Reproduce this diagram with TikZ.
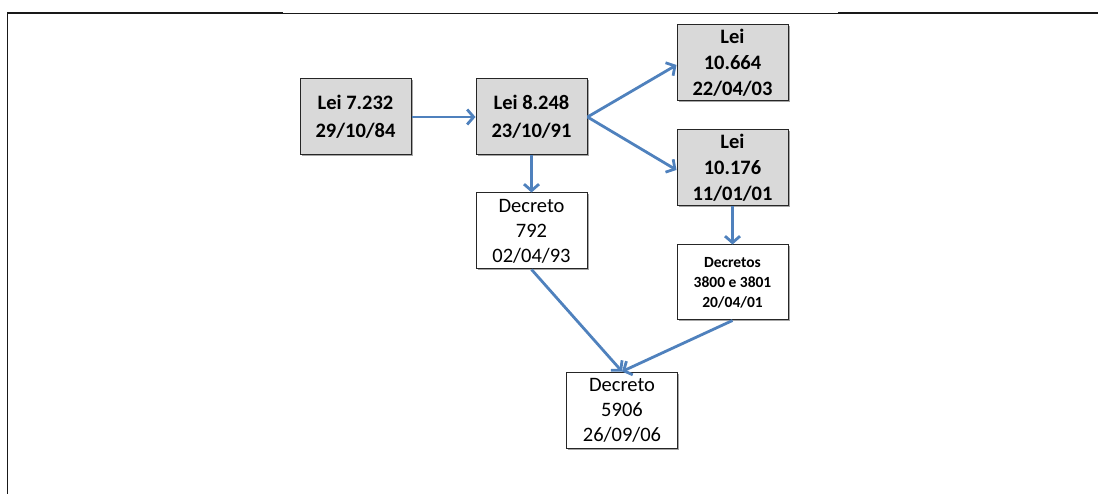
\documentclass[tikz,border=0pt]{standalone}
\usepackage{fontspec}
\setmainfont{Carlito}
\usetikzlibrary{arrows.meta,shadows}
\definecolor{arrowblue}{RGB}{79,129,189}
\definecolor{boxgrey}{RGB}{217,217,217}
\begin{document}
\begin{tikzpicture}[x=1pt,y=-1pt,
  base/.style={draw=black!85,line width=1pt,minimum width=111pt,inner sep=0pt,align=center,
    drop shadow={shadow xshift=1.5pt,shadow yshift=-1.5pt,opacity=0.35,fill=black}},
  leibox/.style={base,fill=boxgrey,minimum height=76pt,font=\fontsize{20.5}{26}\bfseries\selectfont},
  leiboxtwo/.style={leibox,font=\fontsize{20.5}{28}\bfseries\selectfont},
  decbox/.style={base,fill=white,minimum height=76pt,font=\fontsize{20.5}{25}\selectfont},
  smallbox/.style={base,fill=white,minimum height=75pt,font=\fontsize{15.5}{20}\bfseries\selectfont},
  conn/.style={draw=arrowblue,line width=2.8pt,-{Straight Barb[length=6.5pt,width=15pt]}}]
\useasboundingbox (0,0) rectangle (1098,494);
% frame
\draw[line width=2.2pt,black!90] (7,13) -- (283,13);
\draw[line width=0.8pt,black!90] (283,13) -- (838,13);
\draw[line width=2.2pt,black!90] (838,13) -- (1098,13);
\draw[line width=1.5pt,black!90] (7.5,12) -- (7.5,494);
% nodes
\node[leiboxtwo] (a) at (355.5,117) {Lei 7.232\\29/10/84};
\node[leiboxtwo] (b) at (531.5,117) {Lei 8.248\\23/10/91};
\node[leibox] (c) at (732.5,63) {Lei\\10.664\\22/04/03};
\node[leibox] (d) at (732.5,168) {Lei\\10.176\\11/01/01};
\node[decbox] (e) at (531.5,231) {Decreto\\792\\02/04/93};
\node[smallbox] (f) at (732.5,282.5) {Decretos\\3800 e 3801\\20/04/01};
\node[decbox] (g) at (622,410) {Decreto\\5906\\26/09/06};
% connectors
\draw[conn] (a.east) -- (b.west);
\draw[conn] (b.east) -- ([yshift=-2pt]c.west);
\draw[conn] (b.east) -- ([yshift=-2pt]d.west);
\draw[conn] (b.south) -- (e.north);
\draw[conn] (d.south) -- (f.north);
\draw[conn] (e.south) -- (g.north);
\draw[conn] (f.south) -- (g.north);
\end{tikzpicture}
\end{document}
